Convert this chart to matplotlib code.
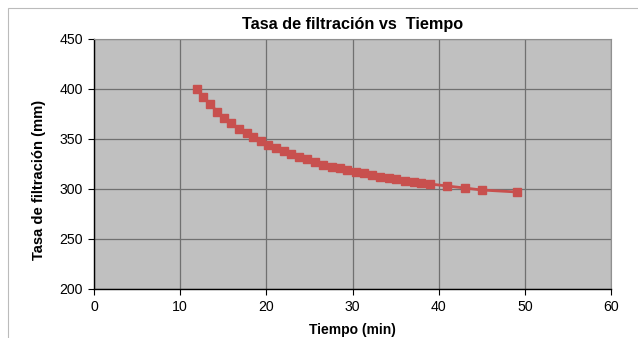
import matplotlib
matplotlib.use("Agg")
import matplotlib.pyplot as plt
from matplotlib.patches import Rectangle

tiempo = [11.9, 12.7, 13.5, 14.3, 15.1, 15.9, 16.8, 17.7, 18.5, 19.4, 20.2, 21.1,
          22.0, 22.9, 23.8, 24.7, 25.7, 26.6, 27.6, 28.5, 29.4, 30.4, 31.3, 32.3,
          33.2, 34.2, 35.1, 36.1, 37.1, 38.0, 39.0, 41.0, 43.0, 45.0, 49.1]
tasa = [400, 392, 385, 377, 371, 366, 360, 356, 352, 348, 344, 341,
        338, 335, 332, 330, 327, 324, 322, 321, 319, 317, 316, 314,
        312, 311, 310, 308, 307, 306, 305, 303, 301, 299, 297]

xticks = [0, 10, 20, 30, 40, 50, 60]
yticks = [200, 250, 300, 350, 400, 450]

plt.rcParams['font.family'] = ['Liberation Sans', 'DejaVu Sans']

W, H = 638, 338
fig = plt.figure(figsize=(W / 100, H / 100), dpi=100)
fig.patch.set_facecolor('white')
fig.patches.append(Rectangle((8 / W, -0.1), 1.2, 1 - 8 / H + 0.1, transform=fig.transFigure,
                             fill=False, edgecolor='#BBBBBB', linewidth=0.8))

ax = fig.add_axes([94 / W, 1 - 289 / H, (611 - 94) / W, (289 - 39) / H])
ax.set_facecolor('#C0C0C0')
ax.plot(tiempo, tasa, color='#C8504E', linewidth=2, marker='s', markersize=5.8,
        markeredgecolor='#C8504E', markerfacecolor='#C8504E', zorder=3)

ax.set_xlim(0, 60)
ax.set_ylim(200, 450)
ax.set_xticks(xticks)
ax.set_yticks(yticks)
ax.grid(True, color='#707070', linewidth=0.9)
ax.set_axisbelow(True)
for s in ['top', 'right']:
    ax.spines[s].set_color('#909090')
    ax.spines[s].set_linewidth(0.8)
for s in ['left', 'bottom']:
    ax.spines[s].set_color('black')
    ax.spines[s].set_linewidth(1.0)
ax.tick_params(direction='out', length=4, width=0.8, labelsize=10.2, pad=4)

ax.set_title('Tasa de filtración vs  Tiempo', fontsize=11.7, fontweight='bold', pad=7)
ax.set_xlabel('Tiempo (min)', fontsize=10, fontweight='bold', labelpad=6.5)
ax.set_ylabel('Tasa de filtración (mm)', fontsize=10.6, fontweight='bold')
ax.yaxis.set_label_coords(-0.092, 0.436)

fig.savefig('out.png', dpi=100)
